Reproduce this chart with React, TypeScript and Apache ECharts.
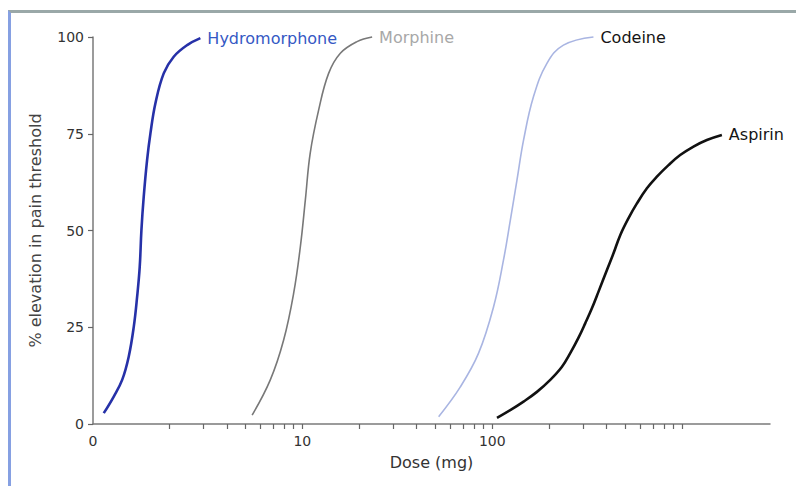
import React, { useEffect, useRef } from "react";
import * as echarts from "echarts";

// Dose (mg) and % elevation in pain threshold for each drug
const hydromorphoneDose = [0.9, 1.016, 1.125, 1.218, 1.295, 1.349, 1.392, 1.421, 1.461, 1.522, 1.585, 1.684, 1.862, 2.102, 2.474, 2.904];
const hydromorphoneEffect = [2.8, 7.1, 11.4, 17.4, 25.1, 32.9, 40.6, 50.1, 58.7, 68.2, 75.1, 82.9, 90.6, 94.9, 97.9, 99.7];

const morphineDose = [5.44, 6.78, 7.97, 9.0, 9.76, 10.37, 11.0, 12.18, 13.75, 15.85, 19.4, 23.3];
const morphineEffect = [2.3, 11.4, 21.7, 33.8, 45.8, 57.9, 70, 81.1, 90.6, 95.8, 98.8, 100];

const codeineDose = [52.2, 67.9, 84.7, 101.6, 114.6, 124.5, 134.9, 146.2, 164.9, 194, 237, 341];
const codeineEffect = [1.9, 9.6, 18.3, 30.3, 42.4, 52.7, 63, 73.4, 84.6, 93.2, 97.9, 100];

const aspirinDose = [105.9, 124.4, 146.1, 171.9, 202, 232.8, 257.4, 284.6, 308.6, 334.7, 362.6, 401.6, 434.9, 471.8, 521.8, 577.7, 652, 736, 847, 976, 1147, 1349, 1618];
const aspirinEffect = [1.6, 3.6, 5.8, 8.3, 11.4, 14.8, 18.3, 22.3, 26.0, 29.9, 34.2, 39.8, 44.1, 48.8, 53.2, 57.0, 60.9, 63.9, 66.9, 69.5, 71.7, 73.4, 74.7];

const xMin = 0.79;
const xMax = 2900;
const xTickValues = [2, 3, 4, 5, 6, 7, 8, 9, 10, 20, 30, 40, 50, 60, 70, 80, 90, 100, 200, 300, 400, 500, 600, 700, 800, 900, 1000];
const xLabelValues = [0.7901, 10, 100];
const yTicks = [0, 25, 50, 75, 100];

const FONT = "DejaVu Sans";

const pairs = (xs: number[], ys: number[]) => xs.map((x, i) => [x, ys[i]]);

export default function App() {
  const ref = useRef<HTMLDivElement>(null);
  useEffect(() => {
    if (!ref.current) return;
    const chart = echarts.init(ref.current, null, { renderer: "svg" });
    const mkSeries = (name: string, xs: number[], ys: number[], color: string, width: number, labelColor: string) => ({
      name,
      type: "line",
      data: pairs(xs, ys),
      smooth: 0.4,
      showSymbol: false,
      symbol: "none",
      clip: false,
      lineStyle: { color, width },
      endLabel: {
        show: true,
        formatter: "{a}",
        color: labelColor,
        fontFamily: FONT,
        fontSize: 16,
        distance: 7,
      },
    });
    chart.setOption({
      animation: false,
      backgroundColor: "#ffffff",
      grid: { left: 93, right: 26, top: 37, bottom: 62, containLabel: false },
      xAxis: {
        type: "log",
        logBase: 10,
        min: xMin,
        max: xMax,
        name: "Dose (mg)",
        nameLocation: "middle",
        nameGap: 30,
        nameTextStyle: { fontFamily: FONT, fontSize: 16, color: "#333" },
        axisLine: { show: true, lineStyle: { color: "#7a7a7a", width: 1.5 } },
        axisTick: { show: true, length: 5, inside: false, customValues: xTickValues, lineStyle: { color: "#666", width: 1.2 } },
        axisLabel: {
          show: true,
          customValues: xLabelValues,
          margin: 10,
          fontFamily: FONT,
          fontSize: 14,
          color: "#333",
          formatter: (v: number) => (v < 1 ? "0" : String(Math.round(v))),
        },
        splitLine: { show: false },
        minorTick: { show: false },
      },
      yAxis: {
        type: "value",
        min: 0,
        max: 100,
        interval: 25,
        name: "% elevation in pain threshold",
        nameLocation: "middle",
        nameGap: 50,
        nameTextStyle: { fontFamily: FONT, fontSize: 16, color: "#444" },
        axisLine: { show: true, lineStyle: { color: "#7a7a7a", width: 1.5 } },
        axisTick: { show: true, length: 5, customValues: yTicks, lineStyle: { color: "#666", width: 1.2 } },
        axisLabel: { margin: 9, fontFamily: FONT, fontSize: 14, color: "#333" },
        splitLine: { show: false },
      },
      series: [
        mkSeries("Hydromorphone", hydromorphoneDose, hydromorphoneEffect, "#2631a8", 2.6, "#3558c4"),
        mkSeries("Morphine", morphineDose, morphineEffect, "#787878", 1.6, "#a8a8a8"),
        mkSeries("Codeine", codeineDose, codeineEffect, "#a9b5e2", 1.6, "#151515"),
        mkSeries("Aspirin", aspirinDose, aspirinEffect, "#111111", 2.6, "#151515"),
      ],
    });
    return () => chart.dispose();
  }, []);
  return (
    <div style={{ position: "fixed", left: 0, top: 0, width: 796, height: 486, overflow: "hidden", background: "#fff" }}>
      <div ref={ref} style={{ position: "absolute", left: 0, top: 0, width: 796, height: 486 }} />
      <div
        style={{
          position: "absolute",
          left: 8,
          top: 10,
          width: 820,
          height: 500,
          borderTop: "3px solid #9aa8a8",
          borderLeft: "3px solid #86a0e2",
          pointerEvents: "none",
          boxSizing: "border-box",
        }}
      />
    </div>
  );
}
